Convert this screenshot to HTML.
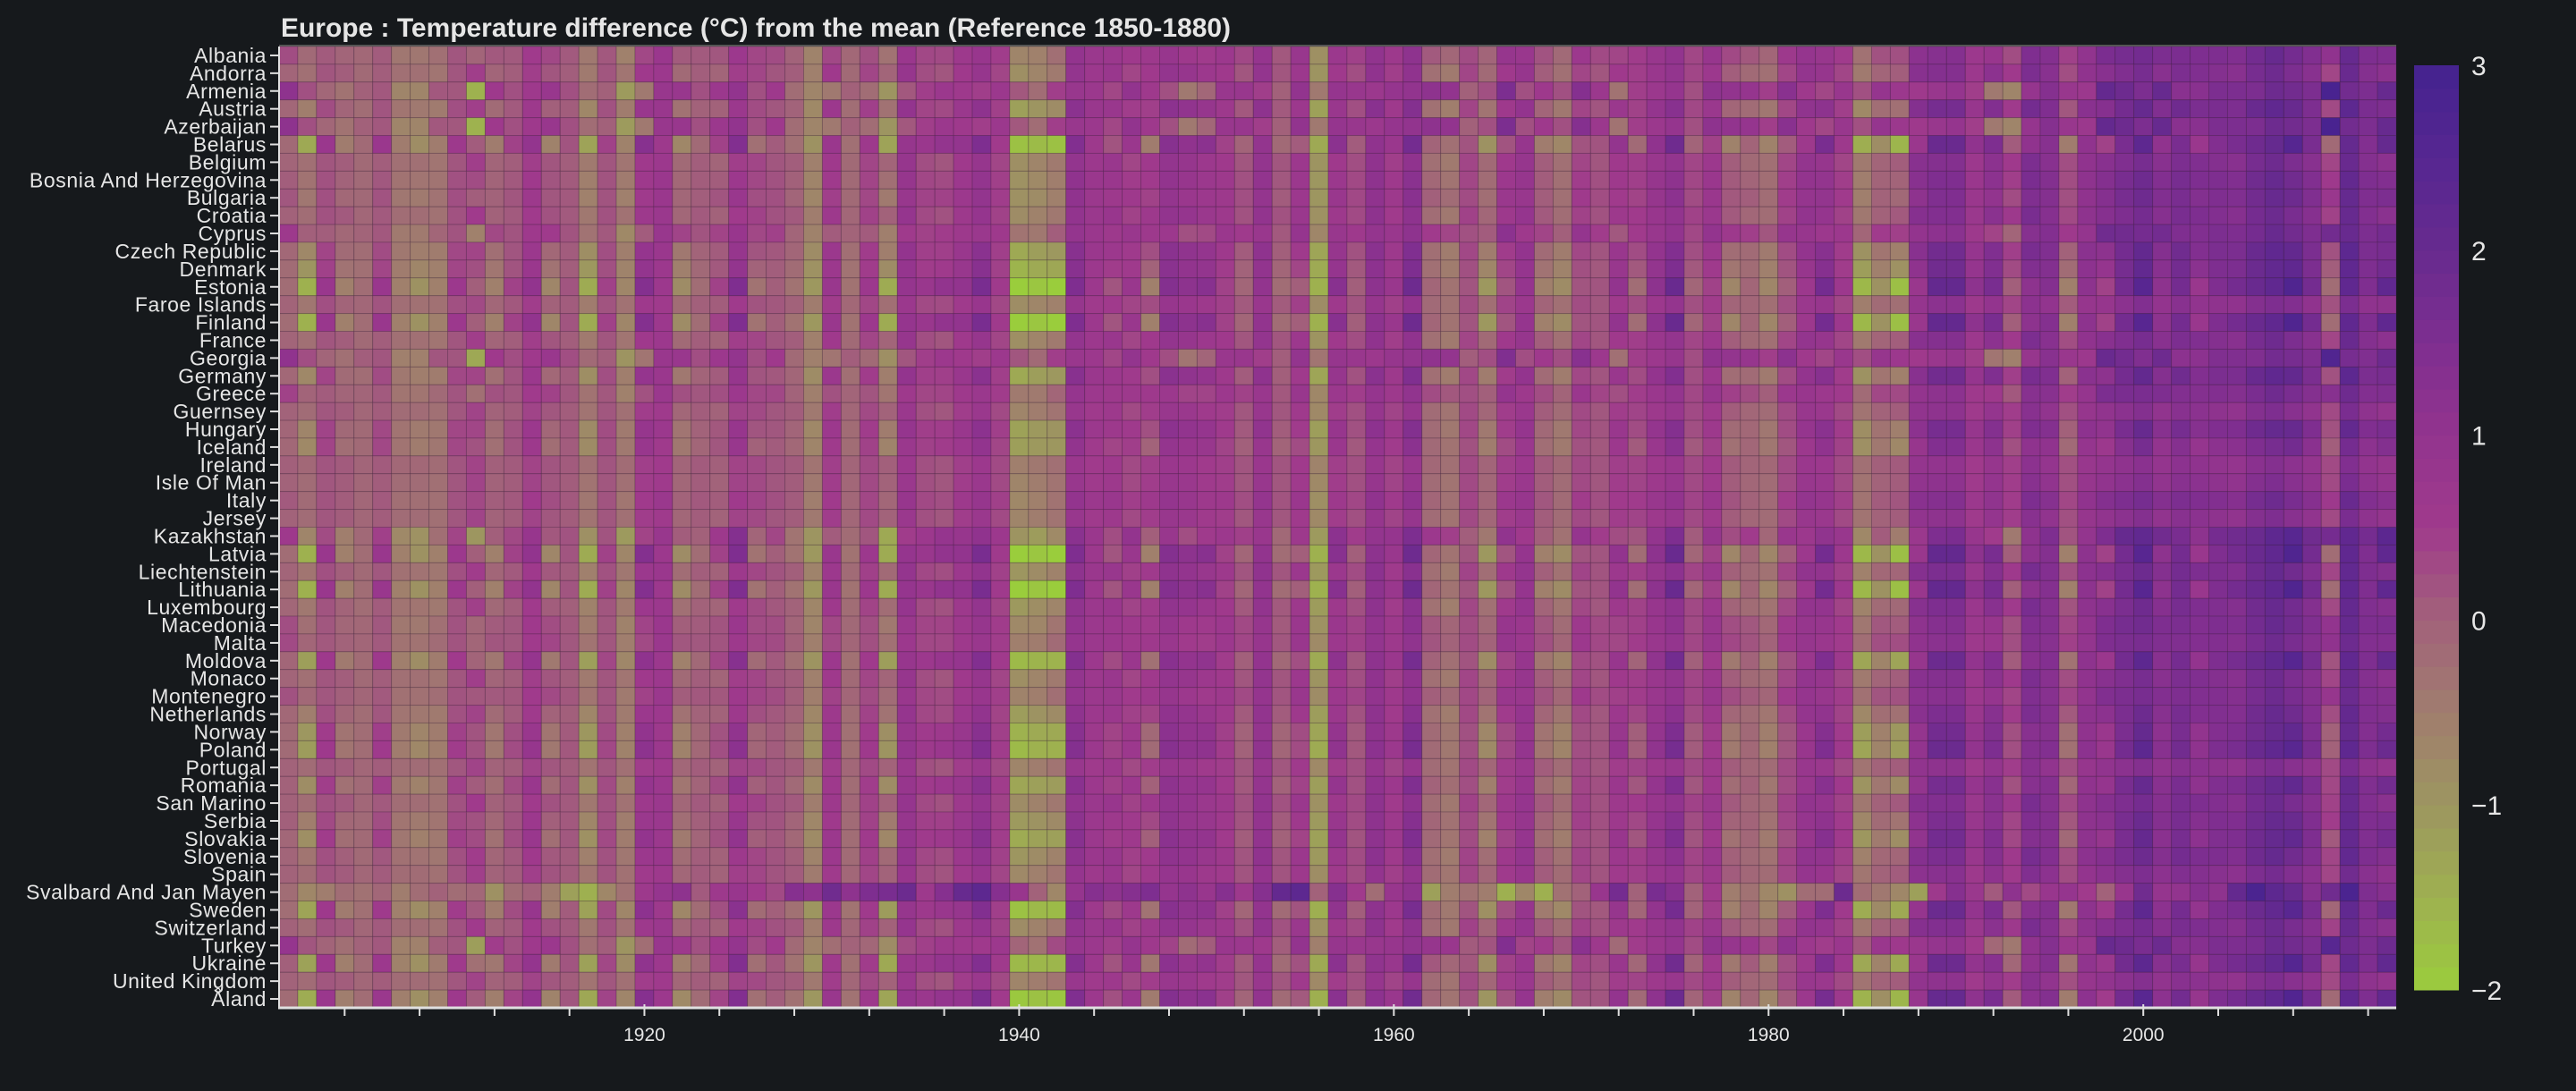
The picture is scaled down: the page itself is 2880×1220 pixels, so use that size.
<!DOCTYPE html>
<html><head><meta charset="utf-8"><style>
html,body{margin:0;padding:0;background:#16191c;}
svg{display:block;font-family:"Liberation Sans",sans-serif;}
</style></head><body>
<svg id="chart" width="2880" height="1220" xmlns="http://www.w3.org/2000/svg">
<rect x="0" y="0" width="2880" height="1220" fill="#16191c"/>
<text x="314" y="41" font-size="30" font-weight="bold" fill="#e6e6e6" textLength="1062" lengthAdjust="spacingAndGlyphs">Europe : Temperature difference (°C) from the mean (Reference 1850-1880)</text>
<g id="cells"></g>
<g id="yaxis"></g>
<g id="xaxis"></g>
<g id="cbar"></g>
</svg>
<script>
const countries=["Albania","Andorra","Armenia","Austria","Azerbaijan","Belarus","Belgium","Bosnia And Herzegovina","Bulgaria","Croatia","Cyprus","Czech Republic","Denmark","Estonia","Faroe Islands","Finland","France","Georgia","Germany","Greece","Guernsey","Hungary","Iceland","Ireland","Isle Of Man","Italy","Jersey","Kazakhstan","Latvia","Liechtenstein","Lithuania","Luxembourg","Macedonia","Malta","Moldova","Monaco","Montenegro","Netherlands","Norway","Poland","Portugal","Romania","San Marino","Serbia","Slovakia","Slovenia","Spain","Svalbard And Jan Mayen","Sweden","Switzerland","Turkey","Ukraine","United Kingdom","Åland"];
const firstYear=1901;
const westSeries=[-0.4,-0.6,-0.2,-0.3,-0.5,-0.3,-0.6,-0.6,-0.7,-0.2,0.1,-0.4,-0.3,
0.1,-0.2,-0.3,-0.8,-0.2,-0.7,0.2,0.3,-0.5,-0.3,-0.4,0.1,0.0,
-0.2,-0.3,-0.9,0.2,-0.5,0.0,-0.4,0.5,-0.1,-0.2,0.2,0.5,0.0,
-1.2,-1.0,-0.8,0.6,0.3,0.4,0.0,0.2,0.6,0.5,0.3,0.2,-0.2,
0.6,-0.2,0.3,-1.3,0.2,-0.1,0.7,0.1,0.7,-0.6,-0.8,0.0,-0.5,
0.2,0.5,-0.3,-0.6,0.0,-0.2,0.2,0.1,0.4,0.6,0.0,0.3,-0.3,
-0.5,-0.6,0.0,0.6,0.5,0.0,-0.8,-0.4,-0.3,0.9,1.0,1.0,0.3,
0.8,0.2,1.2,0.9,-0.1,0.7,0.9,1.1,1.3,0.9,1.2,1.1,1.0,
0.9,1.3,1.5,1.2,0.9,0.0,1.6,1.0,0.8];
const eastSeries=[-0.5,-1.6,0.3,-0.8,-0.5,0.3,-0.8,-1.1,-0.8,0.2,-0.3,-0.8,0.0,
0.5,-0.9,-0.2,-1.5,0.0,-0.9,0.8,0.2,-1.0,-0.5,0.0,0.9,-0.6,
-0.3,-0.6,-1.2,0.3,-0.6,0.2,-1.5,0.4,0.3,0.5,0.5,1.0,0.1,
-2.0,-1.9,-2.0,0.9,0.2,-0.2,0.3,-0.8,0.8,0.6,0.7,0.0,-0.4,
0.5,-0.5,-0.3,-1.6,0.7,-0.3,0.6,0.3,1.2,-0.4,-0.6,-0.2,-1.2,
-0.2,0.4,-0.8,-1.0,-0.2,-0.2,0.5,-0.5,0.6,1.3,-0.4,0.0,-0.9,
-0.4,-0.9,-0.3,0.2,1.1,0.2,-1.7,-1.1,-1.8,0.3,1.4,1.4,0.6,
1.0,-0.3,0.6,0.8,-0.8,0.6,0.0,1.1,1.7,0.6,1.1,0.3,0.9,
1.1,1.3,1.5,1.9,1.1,-0.5,1.5,0.9,1.5];
const caucasusSeries=[0.6,-0.2,-0.5,-0.7,-0.4,-0.3,-1.0,-1.0,-0.3,-0.3,-1.8,0.1,-0.2,
0.1,0.3,-0.2,-0.6,-0.4,-1.4,-0.8,0.3,0.3,-0.2,0.2,0.5,-0.2,
0.1,-0.6,-1.0,-0.8,-0.4,-0.6,-1.3,-0.3,0.0,0.2,0.1,0.0,0.2,
-0.3,-0.6,0.0,0.3,0.2,-0.1,0.5,0.1,-0.2,-0.8,-0.5,0.3,0.3,
0.0,-0.4,0.5,-0.8,0.4,0.3,0.2,0.4,0.5,0.6,0.5,-0.4,-0.2,
1.0,-0.2,0.1,-0.2,0.8,0.2,-0.7,0.0,0.2,0.4,-0.2,0.6,0.5,
0.4,0.0,0.7,0.1,-0.1,0.3,-0.2,0.4,0.2,0.1,0.3,0.4,0.0,
-0.8,-1.0,0.4,0.8,0.3,0.2,1.5,1.3,1.0,1.4,0.7,0.7,1.0,
1.0,1.0,1.3,1.2,1.0,2.2,1.2,1.0,1.4];
const arcticSeries=[-0.5,-1.0,-0.8,-0.5,-0.6,-0.4,-0.8,-0.5,-0.3,-0.5,-0.4,-1.2,-0.5,
-0.3,-0.8,-1.5,-1.8,-1.0,-0.6,0.3,0.6,0.8,-0.2,0.3,0.5,0.2,
0.0,1.0,0.8,1.5,0.8,1.2,1.3,1.6,0.3,1.0,1.7,2.0,1.0,
0.5,-0.3,-1.0,0.6,1.0,0.8,1.0,1.2,0.6,0.8,0.5,1.0,0.3,
1.0,1.8,2.0,-0.3,1.0,0.2,-0.5,0.5,0.8,-1.5,-0.8,-0.6,-0.8,
-1.8,-1.0,-1.8,-0.6,-0.3,0.5,1.4,-0.3,1.3,1.0,-0.3,0.2,-0.8,
-0.6,-1.0,-1.2,-0.5,-0.5,1.6,-0.5,-0.7,-1.0,-1.5,0.3,1.0,0.4,
-0.2,0.8,0.0,0.5,0.6,0.2,-0.3,0.5,1.5,0.6,0.7,1.0,0.8,
1.8,2.5,2.0,1.7,1.0,1.5,2.5,1.2,1.0];
const weightWest=[0.8,1,0,1,0,0,1,0.9,0.7,1,0.5,0.8,0.6,0,0.6,0,1,0,0.8,0.6,0.8,0.7,0.4,0.7,0.8,0.9,0.8,0,0,1,0,1,0.7,0.7,0.2,1,0.8,0.9,0.4,0.4,0.8,0.4,1,0.7,0.5,1,0.9,0,0.3,1,0.2,0,0.8,0.1];
const weightEast=[0,0,0,0.2,0,1.1,0,0.1,0.2,0,0,0.4,0.6,1.2,0.2,1.2,0,0,0.4,0,0,0.4,0.5,0,0,0,0,0.6,1.2,0.1,1.2,0.1,0.1,0,0.9,0,0,0.2,0.7,0.8,0,0.6,0,0.3,0.6,0.1,0,0,0.9,0,0,1,0,1.1];
const weightCaucasus=[0.3,0,1.1,0,1.1,0,0,0.1,0.2,0,0.6,0,0,0,0,0,0,1,0,0.4,0,0,0,0,0,0.1,0,0.7,0,0,0,0,0.3,0.3,0.1,0,0.2,0,0,0,0,0.1,0,0.1,0,0,0,0,0,0,0.9,0.2,0,0];
const weightArctic=[0,0,0,0,0,0,0,0,0,0,0,0,0,0,0,0,0,0,0,0,0,0,0,0,0,0,0,0,0,0,0,0,0,0,0,0,0,0,0,0,0,0,0,0,0,0,0,1,0,0,0,0,0,0];
const countryBaseline=[0.4,0.35,0.45,0.4,0.45,0.4,0.35,0.4,0.4,0.4,0.45,0.4,0.35,0.4,0.3,0.4,0.35,0.45,0.4,0.4,0.3,0.4,0.3,0.3,0.3,0.4,0.3,0.45,0.4,0.4,0.4,0.35,0.4,0.4,0.4,0.35,0.4,0.35,0.35,0.4,0.3,0.4,0.4,0.4,0.4,0.4,0.35,0.3,0.35,0.4,0.45,0.4,0.3,0.4];
const cbarTicks=[3,2,1,0,-1,-2];
const majorTicks=[1920,1940,1960,1980,2000];

const NS="http://www.w3.org/2000/svg";
const X0=312,X1=2679,Y0=52,Y1=1127;
const nYears=westSeries.length;
const cw=(X1-X0)/nYears, ch=(Y1-Y0)/countries.length;
const xOf=y=>X0+(y-firstYear)*cw;
const yOf=i=>Y0+i*ch;
const vmin=-2,vmax=3;
const stops=[[-2,[154,205,60]],[-1.5,[158,176,80]],[-1,[157,150,96]],[-0.5,[160,125,110]],[0,[162,98,122]],[0.5,[160,58,140]],[1,[146,52,142]],[1.5,[126,46,144]],[2,[103,42,143]],[2.5,[86,38,145]],[3,[68,34,143]]];
function color(v){v=Math.max(vmin,Math.min(vmax,v));for(let k=0;k<stops.length-1;k++){const a=stops[k],b=stops[k+1];if(v<=b[0]){const t=(v-a[0])/(b[0]-a[0]);const c=a[1].map((x,i)=>Math.round(x+(b[1][i]-x)*t));return `rgb(${c[0]},${c[1]},${c[2]})`;}}return "rgb(68,34,143)";}
function mk(tag,attrs,parent){const e=document.createElementNS(NS,tag);for(const k in attrs)e.setAttribute(k,attrs[k]);parent.appendChild(e);return e;}
const cells=document.getElementById('cells');
for(let i=0;i<countries.length;i++){for(let j=0;j<nYears;j++){
 const v=countryBaseline[i]+weightWest[i]*westSeries[j]+weightEast[i]*eastSeries[j]+weightCaucasus[i]*caucasusSeries[j]+weightArctic[i]*arcticSeries[j];
 const r=mk('rect',{x:xOf(firstYear+j).toFixed(2),y:yOf(i).toFixed(2),width:cw.toFixed(2),height:ch.toFixed(2),fill:color(v),stroke:'rgba(60,30,60,0.25)','stroke-width':1},cells);
 
 
}}
mk('line',{x1:X0,y1:Y0-1,x2:X1,y2:Y0-1,stroke:'#555','stroke-width':2},cells);
const ya=document.getElementById('yaxis');
mk('line',{x1:X0,y1:Y0,x2:X0,y2:Y1+1,stroke:'#e0e0e0','stroke-width':2},ya);
countries.forEach((c,i)=>{const yc=yOf(i)+ch/2;
 mk('line',{x1:X0-10,y1:yc,x2:X0,y2:yc,stroke:'#e0e0e0','stroke-width':2},ya);
 const t=mk('text',{x:X0-14,y:yc+8,'text-anchor':'end','font-size':23,'letter-spacing':0.6,fill:'#e6e6e6'},ya);
 t.textContent=c;
 
 
});
const xa=document.getElementById('xaxis');
mk('line',{x1:X0-1,y1:Y1,x2:X1,y2:Y1,stroke:'#e0e0e0','stroke-width':3},xa);
for(let yr=1904;yr<firstYear+nYears;yr+=4){const xc=xOf(yr)+cw/2;const major=majorTicks.includes(yr);
 mk('line',{x1:xc,y1:major?Y1-4:Y1,x2:xc,y2:Y1+9,stroke:'#e0e0e0','stroke-width':2},xa);}
majorTicks.forEach(yr=>{const t=mk('text',{x:xOf(yr)+cw/2,y:1164,'text-anchor':'middle','font-size':21,fill:'#e6e6e6'},xa);
 t.textContent=yr;
 
 
});
const cb=document.getElementById('cbar');
const CB0=73,CB1=1107,CBX=2699,CBW=50;
const cbY=v=>CB1-(v-vmin)/(vmax-vmin)*(CB1-CB0);
const nb=40;
for(let k=0;k<nb;k++){const v0=vmin+k*(vmax-vmin)/nb;
 const r=mk('rect',{x:CBX,y:cbY(v0+(vmax-vmin)/nb),width:CBW,height:(CB1-CB0)/nb+0.5,fill:color(v0+(vmax-vmin)/nb/2)},cb);
 
 
}
cbarTicks.forEach(v=>{const t=mk('text',{x:2763,y:cbY(v)+11,'font-size':30,fill:'#e6e6e6'},cb);
 t.textContent=v<0?'\u2212'+Math.abs(v):String(v);
 
 
});
</script>
</body></html>
